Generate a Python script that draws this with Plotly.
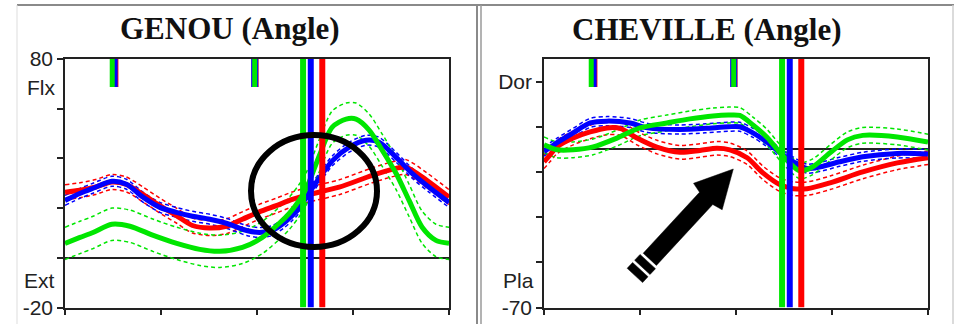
import math
import plotly.graph_objects as go

# ---------------- data ----------------
# Knee (GENOU) angle, % of gait cycle vs degrees
knee_blue_x = [0, 4, 7.3, 12.2, 16, 20.3, 24.7, 29, 33.2, 37.7, 42, 47.3, 50.6, 54, 57, 59.2, 61, 63.5, 66.2, 69.6, 74, 78.4, 81.8, 86.2, 90.4, 94.8, 100]
knee_blue_y = [23.1, 26, 28, 30.8, 29.6, 24.4, 20.3, 18.3, 16.7, 15.5, 13.9, 11, 10.2, 11, 14, 17, 20, 26, 32, 39, 44.5, 47.3, 46.5, 40.5, 34, 28.4, 22.3]
knee_blue_sd = 2.0

knee_red_x = [0, 3.9, 8, 12.2, 16, 20.3, 24.7, 29, 33.2, 37.7, 42, 46.2, 50.6, 55, 59.2, 63.6, 71.4, 80, 86.2, 88.8, 94.2, 100]
knee_red_y = [26.4, 27.2, 28.5, 30.5, 29.5, 25.5, 21, 17, 13, 12, 12.7, 15.5, 18.5, 21, 23.5, 25.5, 28.4, 33.2, 36, 36.5, 31.2, 24.4]
knee_red_sd = 3.0

knee_green_x = [0, 3.9, 7.3, 12.2, 16.9, 23, 29.1, 35.1, 40.3, 46.2, 51.4, 55.8, 58.4, 61, 63, 66.2, 69.6, 73.2, 75.8, 79.2, 82.6, 86.2, 89.6, 93, 96.6, 100]
knee_green_y = [5.8, 8.2, 10.2, 13.5, 12.7, 9, 5.8, 3.4, 2.6, 4.2, 8.2, 13.9, 17.9, 23.1, 28.4, 41, 52.6, 55.8, 55.8, 51.4, 43.3, 34, 23.1, 12.3, 7, 5.8]
knee_green_sd = 6.5

# Ankle (CHEVILLE) angle
ankle_blue_x = [0, 3.4, 7.6, 12, 16.4, 22.4, 27, 35.4, 42, 48, 51, 54.4, 58, 61.5, 65, 68.5, 72, 77, 83, 92, 100]
ankle_blue_y = [-1, 3, 7.3, 11.7, 12.5, 11.7, 9.5, 8.8, 9.3, 10, 10, 7.3, 3.3, -1.5, -5.5, -8.5, -7.7, -5.5, -3.3, -1.8, -2]
ankle_blue_sd = 2.0

ankle_red_x = [0, 1.6, 3.4, 7.6, 12, 16.4, 20, 24.2, 29.4, 35.4, 40.6, 45, 48.4, 52.9, 57, 61.5, 65, 68.5, 74.5, 83, 92, 100]
ankle_red_y = [-5.5, -2.4, 1.1, 5, 7.7, 9.5, 9.2, 5, 1, -1.3, -0.5, 0.5, -0.2, -3.7, -10.4, -15.7, -17.4, -17.4, -14.8, -10, -6, -3.7]
ankle_red_sd = 3.0

ankle_green_x = [0, 3.4, 7.6, 12.8, 19, 25, 32, 38, 44, 48, 51, 54.4, 58, 61.5, 65, 66.7, 70, 74.5, 79, 83, 92, 100]
ankle_green_y = [2, -0.2, -0.2, 1.1, 5, 9.5, 11.7, 13.5, 14.8, 15.2, 15, 10.8, 5.5, -1.5, -7.7, -9.5, -7.7, -1.5, 4.2, 6.2, 5.5, 3.2]
ankle_green_sd = 3.5

# gait events (% cycle)
foot_off = {"green": 62.0, "blue": 64.0, "red": 67.0}
opp_events = {"red": [13.0, 49.5], "blue": [12.8, 49.4], "green": [12.3, 49.4]}

# axes
knee_range = [-20, 80]
knee_ticks = [-20, 0, 20, 40, 60, 80]
knee_ticktext = ["-20", "", "", "", "", "80"]
ankle_range = [-70, 40]
ankle_ticks = [-70, -50, -30, -10, 10, 30]
ankle_ticktext = ["-70", "", "", "", "", "Dor"]
x_ticks = [0, 25, 50, 75, 100]

# ---------------- layout geometry ----------------
W, H = 958, 324
LEFT_PX = (65, 449)
RIGHT_PX = (544, 928)
TOP_PX, BOT_PX = 59, 307.5

COL = {"green": "#00e600", "blue": "#0000ff", "red": "#ff0000"}

fig = go.Figure()


def add_panel(xa, ya, series, yr):
    # dashed envelopes first
    for name, xs, ys, sd in series:
        for sgn in (1, -1):
            fig.add_trace(go.Scatter(x=xs, y=[v + sgn * sd for v in ys], mode="lines",
                                     line=dict(color=COL[name], width=1.5, dash="4px,3px", shape="spline", smoothing=0.8),
                                     xaxis=xa, yaxis=ya, hoverinfo="skip", showlegend=False))
    for name, xs, ys, sd in series:
        fig.add_trace(go.Scatter(x=xs, y=ys, mode="lines",
                                 line=dict(color=COL[name], width=5, shape="spline", smoothing=0.8),
                                 xaxis=xa, yaxis=ya, hoverinfo="skip", showlegend=False))
    # foot-off vertical lines
    for name in ("green", "blue", "red"):
        e = foot_off[name]
        fig.add_trace(go.Scatter(x=[e, e], y=yr, mode="lines",
                                 line=dict(color=COL[name], width=6),
                                 xaxis=xa, yaxis=ya, hoverinfo="skip", showlegend=False))
    # short markers at the top (opposite foot events)
    span = yr[1] - yr[0]
    top = yr[1]
    bot = yr[1] - span * 0.113
    for name, w in (("red", 7), ("blue", 7), ("green", 5)):
        for e in opp_events[name]:
            fig.add_trace(go.Scatter(x=[e, e], y=[top, bot], mode="lines",
                                     line=dict(color=COL[name], width=w),
                                     xaxis=xa, yaxis=ya, hoverinfo="skip", showlegend=False))


add_panel("x", "y", [("red", knee_red_x, knee_red_y, knee_red_sd),
                     ("blue", knee_blue_x, knee_blue_y, knee_blue_sd),
                     ("green", knee_green_x, knee_green_y, knee_green_sd)], knee_range)
add_panel("x2", "y2", [("red", ankle_red_x, ankle_red_y, ankle_red_sd),
                       ("blue", ankle_blue_x, ankle_blue_y, ankle_blue_sd),
                       ("green", ankle_green_x, ankle_green_y, ankle_green_sd)], ankle_range)

tickfont = dict(family="Liberation Sans, Arial, sans-serif", size=21, color="#222")
ydom = [1 - BOT_PX / H, 1 - TOP_PX / H]


def xaxis(dom):
    return dict(domain=[dom[0] / W, dom[1] / W], range=[0, 100], tickvals=x_ticks,
                ticks="outside", ticklen=6, tickwidth=1.5, tickcolor="#222", showticklabels=False,
                showline=True, linecolor="#222", linewidth=1.5, mirror=True, automargin=False,
                showgrid=False, zeroline=False, fixedrange=True)


def yaxis(anchor, rng, tv, tt):
    return dict(domain=ydom, range=rng, tickvals=tv, ticktext=tt, anchor=anchor,
                ticks="outside", ticklen=6, tickwidth=1.5, tickcolor="#222", tickfont=tickfont,
                showline=True, linecolor="#222", linewidth=1.5, mirror=True, automargin=False,
                showgrid=False, zeroline=True, zerolinecolor="#222", zerolinewidth=1.5,
                fixedrange=True)


fig.update_layout(
    width=W, height=H, margin=dict(l=0, r=0, t=0, b=0, pad=0, autoexpand=False),
    paper_bgcolor="white", plot_bgcolor="white",
    xaxis=dict(xaxis(LEFT_PX), anchor="y"),
    yaxis=yaxis("x", knee_range, knee_ticks, knee_ticktext),
    xaxis2=dict(xaxis(RIGHT_PX), anchor="y2"),
    yaxis2=yaxis("x2", ankle_range, ankle_ticks, ankle_ticktext),
)


# helpers px -> data
def kx(px):
    return (px - LEFT_PX[0]) / (LEFT_PX[1] - LEFT_PX[0]) * 100


def ky(py):
    return knee_range[1] - (py - TOP_PX) / (BOT_PX - TOP_PX) * (knee_range[1] - knee_range[0])


def ax_(px):
    return (px - RIGHT_PX[0]) / (RIGHT_PX[1] - RIGHT_PX[0]) * 100


def ay(py):
    return ankle_range[1] - (py - TOP_PX) / (BOT_PX - TOP_PX) * (ankle_range[1] - ankle_range[0])


shapes = []
# black ellipse on knee plot
shapes.append(dict(type="circle", xref="x", yref="y", x0=kx(251), x1=kx(377), y0=ky(247), y1=ky(135),
                   line=dict(color="black", width=6), layer="above"))

# arrow on ankle plot (pixel geometry)
tip = (733.3, 169.0)
dx, dy = -98.0, 106.0
L = math.hypot(dx, dy)
d = (dx / L, dy / L)
n = (abs(d[1]), abs(d[0]))


def pt(u, v):
    px = tip[0] + u * d[0] + v * n[0]
    py = tip[1] + u * d[1] + v * n[1]
    return ax_(px), ay(py)


def path(pts):
    return "M " + " L ".join(f"{x:.3f},{y:.3f}" for x, y in (pt(u, v) for u, v in pts)) + " Z"


arrow_parts = [
    [(0, 0), (37.5, -19.5), (40, -9), (123, -9), (123, 9), (40, 9), (37.5, 19.5)],
    [(126, -10.5), (134, -10.5), (134, 10.5), (126, 10.5)],
    [(137, -10.5), (145, -10.5), (145, 10.5), (137, 10.5)],
]
for part in arrow_parts:
    shapes.append(dict(type="path", xref="x2", yref="y2", path=path(part),
                       fillcolor="black", line=dict(color="black", width=0.5), layer="above"))

# panel frames
frame = dict(color="#8a8a8a", width=2)
shapes += [
    dict(type="line", xref="paper", yref="paper", x0=17 / W, x1=954 / W, y0=1 - 5 / H, y1=1 - 5 / H, line=frame),
    dict(type="line", xref="paper", yref="paper", x0=17 / W, x1=17 / W, y0=0, y1=1 - 5 / H, line=dict(color="#dddddd", width=1)),
    dict(type="line", xref="paper", yref="paper", x0=477 / W, x1=477 / W, y0=0, y1=1 - 5 / H, line=frame),
    dict(type="line", xref="paper", yref="paper", x0=481 / W, x1=481 / W, y0=0, y1=1 - 5 / H, line=dict(color="#9a9a9a", width=1.5)),
    dict(type="line", xref="paper", yref="paper", x0=953 / W, x1=953 / W, y0=0, y1=1 - 5 / H, line=dict(color="#cfcfcf", width=1.5)),
]
fig.update_layout(shapes=shapes)

titlefont = dict(family="Liberation Serif, Times New Roman, serif", size=31, color="#111")
lblfont = dict(family="Liberation Sans, Arial, sans-serif", size=21, color="#222")
fig.update_layout(annotations=[
    dict(text="<b>GENOU (Angle)</b>", xref="paper", yref="paper", x=230 / W, y=1 - 29 / H,
         xanchor="center", yanchor="middle", showarrow=False, font=titlefont),
    dict(text="<b>CHEVILLE (Angle)</b>", xref="paper", yref="paper", x=707 / W, y=1 - 30 / H,
         xanchor="center", yanchor="middle", showarrow=False, font=titlefont),
    dict(text="Flx", xref="paper", yref="paper", x=57 / W, y=1 - 87 / H,
         xanchor="right", yanchor="middle", showarrow=False, font=lblfont),
    dict(text="Ext", xref="paper", yref="paper", x=57 / W, y=1 - 280 / H,
         xanchor="right", yanchor="middle", showarrow=False, font=lblfont),
    dict(text="Pla", xref="paper", yref="paper", x=536 / W, y=1 - 280 / H,
         xanchor="right", yanchor="middle", showarrow=False, font=lblfont),
])

fig.write_html("out.html", config={"displayModeBar": False},
               post_script="document.body.style.margin='0px';document.documentElement.style.overflow='hidden';")
